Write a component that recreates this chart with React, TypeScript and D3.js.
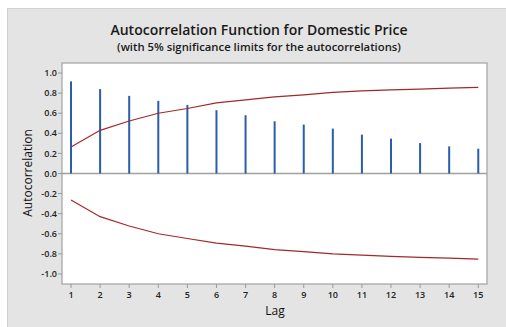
import React from "react";
import * as d3 from "d3";

const lags = [1, 2, 3, 4, 5, 6, 7, 8, 9, 10, 11, 12, 13, 14, 15];
const acf = [0.917, 0.84, 0.773, 0.723, 0.683, 0.63, 0.58, 0.52, 0.487, 0.447, 0.387, 0.347, 0.303, 0.27, 0.247];
const upperLimit = [0.263, 0.43, 0.523, 0.6, 0.647, 0.703, 0.733, 0.763, 0.783, 0.807, 0.823, 0.833, 0.84, 0.85, 0.857];
const lowerLimit = [-0.263, -0.43, -0.523, -0.6, -0.647, -0.693, -0.723, -0.757, -0.777, -0.8, -0.813, -0.825, -0.835, -0.843, -0.853];
const yTicks = [1.0, 0.8, 0.6, 0.4, 0.2, 0.0, -0.2, -0.4, -0.6, -0.8, -1.0];

const W = 506;
const H = 327;
const plot = { left: 62, top: 63, right: 487, bottom: 284 };
const font = "'Open Sans', 'Noto Sans', sans-serif";

export default function App() {
  const x = d3.scaleLinear().domain([0.69, 15.3]).range([plot.left, plot.right]);
  const y = d3.scaleLinear().domain([-1.1, 1.1]).range([plot.bottom, plot.top]);
  const line = d3
    .line<[number, number]>()
    .x((d) => x(d[0]))
    .y((d) => y(d[1]));
  const up = lags.map((l, i) => [l, upperLimit[i]] as [number, number]);
  const lo = lags.map((l, i) => [l, lowerLimit[i]] as [number, number]);

  return (
    <svg
      width={W}
      height={H}
      style={{ position: "absolute", left: 0, top: 0, display: "block" }}
    >
      <rect x={0} y={0} width={W} height={H} fill="#ffffff" />
      <rect x={7} y={8} width={W - 7} height={H - 8} fill="#e4e4e4" />
      <line x1={7} y1={8.5} x2={W} y2={8.5} stroke="#d2d2d2" />
      <line x1={7.5} y1={8} x2={7.5} y2={H} stroke="#d2d2d2" />

      <text x={259} y={34.5} textAnchor="middle" fontFamily={font} fontSize={14} fontWeight={600} fill="#1a1a1a">
        Autocorrelation Function for Domestic Price
      </text>
      <text x={259} y={50.5} textAnchor="middle" fontFamily={font} fontSize={11.3} fontWeight={600} fill="#1a1a1a">
        (with 5% significance limits for the autocorrelations)
      </text>

      <rect
        x={plot.left}
        y={plot.top}
        width={plot.right - plot.left}
        height={plot.bottom - plot.top}
        fill="#ffffff"
        stroke="#a8a8a8"
        strokeWidth={1.3}
      />

      <line x1={plot.left} x2={plot.right} y1={y(0)} y2={y(0)} stroke="#a0a0a0" strokeWidth={1.3} />

      {acf.map((v, i) => (
        <line
          key={i}
          x1={x(lags[i])}
          x2={x(lags[i])}
          y1={y(0)}
          y2={y(v)}
          stroke="#2a5ea8"
          strokeWidth={2}
        />
      ))}

      <path d={line(up) || ""} fill="none" stroke="#a3282a" strokeWidth={1.2} />
      <path d={line(lo) || ""} fill="none" stroke="#a3282a" strokeWidth={1.2} />

      {yTicks.map((t) => (
        <g key={t}>
          <line x1={plot.left - 4} x2={plot.left} y1={y(t)} y2={y(t)} stroke="#999" />
          <text
            x={plot.left - 5}
            y={y(t)}
            dy="0.35em"
            textAnchor="end"
            fontFamily={font}
            fontSize={9}
            fontWeight={600}
            fill="#222"
          >
            {t.toFixed(1)}
          </text>
        </g>
      ))}

      {lags.map((l) => (
        <g key={l}>
          <line x1={x(l)} x2={x(l)} y1={plot.bottom} y2={plot.bottom + 4} stroke="#999" />
          <text
            x={x(l)}
            y={plot.bottom + 14}
            textAnchor="middle"
            fontFamily={font}
            fontSize={9}
            fontWeight={600}
            fill="#222"
          >
            {l}
          </text>
        </g>
      ))}

      <text x={275} y={315} textAnchor="middle" fontFamily={font} fontSize={12} fill="#111">
        Lag
      </text>
      <text
        transform={`translate(32,173) rotate(-90)`}
        textAnchor="middle"
        fontFamily={font}
        fontSize={12}
        fill="#111"
      >
        Autocorrelation
      </text>
    </svg>
  );
}
